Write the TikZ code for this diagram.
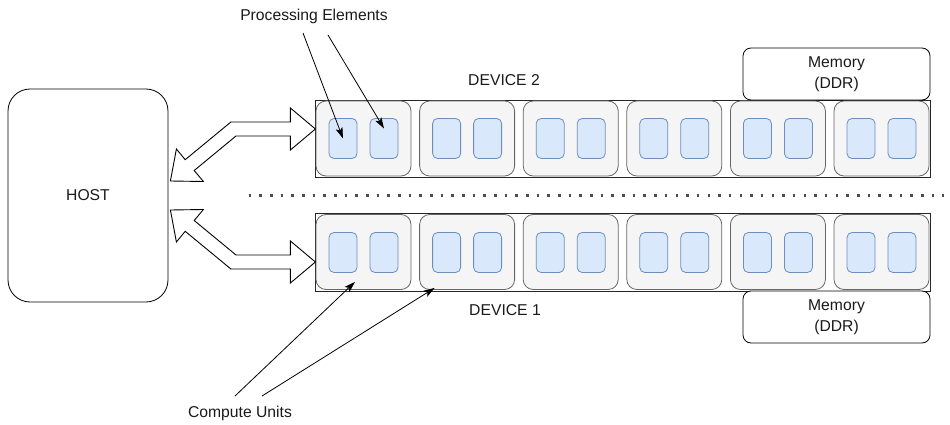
\documentclass[tikz,border=0pt]{standalone}
\usepackage{fontspec}
\setmainfont{Liberation Sans}
\usetikzlibrary{arrows.meta,calc}
\definecolor{cufill}{HTML}{F5F5F5}
\definecolor{cuedge}{HTML}{666666}
\definecolor{pefill}{HTML}{DAE8FC}
\definecolor{peedge}{HTML}{6C8EBF}
\definecolor{inktext}{HTML}{1A1A1A}
\begin{document}
\begin{tikzpicture}[x=1pt,y=-1pt,
  lbl/.style={font=\fontsize{15.7}{21}\selectfont, text=inktext, align=center, inner sep=0pt},
  hostbox/.style={draw=black, fill=white, rounded corners=22pt, minimum width=160pt, minimum height=213pt, inner sep=0pt, line width=0.8pt},
  devbox/.style={draw=black!85, fill=white, minimum width=615pt, inner sep=0pt, line width=0.8pt},
  cubox/.style={draw=cuedge, fill=cufill, rounded corners=10pt, minimum width=95pt, minimum height=75pt, inner sep=0pt, line width=0.8pt},
  pebox/.style={draw=peedge, fill=pefill, rounded corners=5pt, minimum width=28pt, minimum height=40pt, inner sep=0pt, line width=0.8pt},
  membox/.style={draw=black, fill=white, rounded corners=8pt, minimum width=187pt, minimum height=52pt, inner sep=0pt, line width=0.8pt, font=\fontsize{15.7}{21}\selectfont, text=inktext, align=center},
  pointer/.style={-{Stealth[length=11pt,width=7pt,inset=2.5pt]}, line width=0.8pt, draw=black},
  flexarrow/.style={draw=black, fill=white, line width=0.9pt, line join=miter},
  separator/.style={draw=black!70, line width=2.6pt, dash pattern=on 2.6pt off 8.07pt}
]
\useasboundingbox (0,0) rectangle (950,425);

% host
\node[hostbox] (host) at (88,195.5) {};
\node[lbl] (hostlbl) at (host.center) {HOST};

% device frames
\node[devbox, minimum height=77pt] (dev2) at (622.5,138.5) {};
\node[devbox, minimum height=78pt] (dev1) at (622.5,252) {};

% compute units with two processing elements each
\foreach \i in {1,...,6} {
  \node[cubox] (cuB\i) at ({363.5+103.6*(\i-1)},138.5) {};
  \node[pebox] (peB\i-a) at ($(cuB\i.center)+(-20.5,0)$) {};
  \node[pebox] (peB\i-b) at ($(cuB\i.center)+(20.5,0)$) {};
  \node[cubox] (cuA\i) at ({363.5+103.6*(\i-1)},252) {};
  \node[pebox] (peA\i-a) at ($(cuA\i.center)+(-20.5,0.5)$) {};
  \node[pebox] (peA\i-b) at ($(cuA\i.center)+(20.5,0.5)$) {};
}

% memories
\node[membox] (mem2) at (836.5,74) {Memory\\(DDR)};
\node[membox] (mem1) at (836.5,317) {Memory\\(DDR)};

% device titles
\node[lbl] (dev2lbl) at (504,80) {DEVICE 2};
\node[lbl] (dev1lbl) at (505,310) {DEVICE 1};

% separator between devices
\coordinate (sepL) at (248.7,195.5);
\coordinate (sepR) at (944,195.5);
\draw[separator] (sepL) -- (sepR);

% host <-> device 2 link
\draw[flexarrow] ($(host.east)+(2,-14.5)$)
  -- ++(6,-32) -- ++(8.8,10.7) -- ++(45.7,-37.7) -- ++(59.5,0)
  -- ++(0,-14) -- ++(25,21) -- ++(-25,21) -- ++(0,-14)
  -- ++(-54.4,0) -- ++(-41.8,34.5) -- ++(9.2,11) -- cycle;
% host <-> device 1 link
\draw[flexarrow] ($(host.east)+(2,14.5)$)
  -- ++(6,32) -- ++(8.8,-10.7) -- ++(45.7,37.7) -- ++(59.5,0)
  -- ++(0,14) -- ++(25,-21) -- ++(-25,-21) -- ++(0,14)
  -- ++(-54.4,0) -- ++(-41.8,-34.5) -- ++(9.2,-11) -- cycle;

% processing elements callout
\node[lbl] (pelbl) at (314,16) {Processing Elements};
\coordinate (peFromA) at (303,33);
\coordinate (peFromB) at (328,35);
\draw[pointer] (peFromA) -- (peB1-a.center);
\draw[pointer] (peFromB) -- ($(peB1-b.center)+(0,-10)$);

% compute units callout
\node[lbl] (culbl) at (240,413) {Compute Units};
\coordinate (cuFromA) at (235,396);
\coordinate (cuFromB) at (262,396);
\draw[pointer] (cuFromA) -- ($(cuA1.south)+(-8.5,-8)$);
\draw[pointer] (cuFromB) -- ($(cuA2.south west)+(15.5,-2)$);
\end{tikzpicture}
\end{document}
